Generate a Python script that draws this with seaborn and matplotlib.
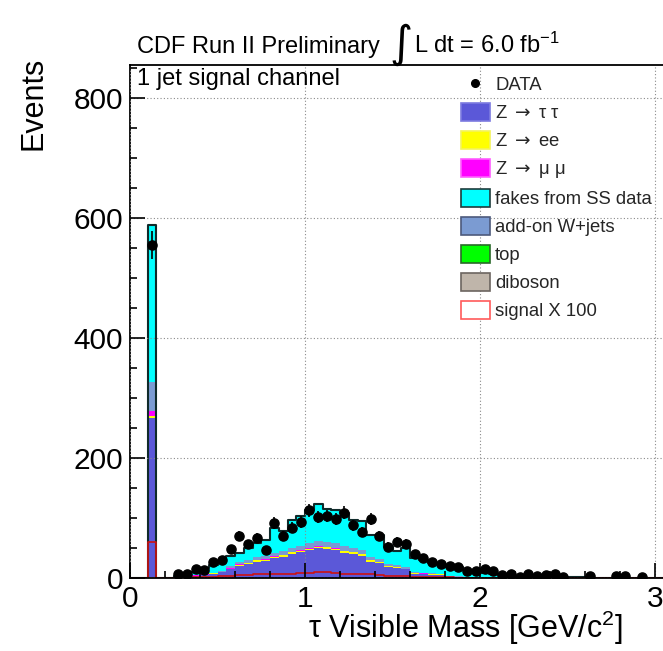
import numpy as np
import pandas as pd
import matplotlib
matplotlib.use("Agg")
import matplotlib.pyplot as plt
import seaborn as sns
from matplotlib.patches import Patch
from matplotlib.lines import Line2D
from matplotlib.ticker import MultipleLocator

sns.set_theme(style="ticks")
plt.rcParams["font.family"] = ["Liberation Sans", "DejaVu Sans"]
plt.rcParams["mathtext.fontset"] = "custom"
plt.rcParams["mathtext.rm"] = "Liberation Sans"
plt.rcParams["mathtext.it"] = "Liberation Sans:italic"
plt.rcParams["mathtext.bf"] = "Liberation Sans:bold"
plt.rcParams["mathtext.sf"] = "DejaVu Sans"
plt.rcParams["mathtext.default"] = "regular"

# 0.05 GeV/c^2 bins, lower edges 0.00 ... 3.00
bin_edges = np.round(np.arange(0.0, 3.0501, 0.05), 3)
bin_centers = bin_edges[:-1] + 0.025
edge_list = [float(e) for e in bin_edges]

# Background expectations per bin (events)
z_tautau = [0, 0, 265, 0, 0,
            1.5, 2, 3.5, 5, 7, 9, 14, 19, 23, 27,
            28, 33, 35, 40, 42, 46, 49, 48, 46, 42,
            40, 37, 27, 25, 18, 17, 14, 7, 6.5, 5.5,
            5, 3, 2, 1.5, 1.5, 0.8,
            0.5, 0.3, 0.2, 0.2, 0.1, 0.1, 0.1, 0, 0, 0,
            0, 0, 0, 0, 0, 0, 0, 0, 0, 0]
z_ee = [0, 0, 4, 0, 0,
        0.1, 0.2, 0.4, 0.6, 0.7, 0.8, 1.2, 1.5, 1.5, 1.7,
        1.8, 2, 2, 2.2, 2.3, 2.5, 2.5, 2.5, 2.4, 2.3,
        2.2, 2, 1.8, 1.6, 1.3, 1.2, 1.1, 1.0, 0.9, 1.0,
        0.9, 0.4, 0.3, 0.2, 0.2, 0.1,
        0, 0, 0, 0, 0, 0, 0, 0, 0, 0,
        0, 0, 0, 0, 0, 0, 0, 0, 0, 0]
z_mumu = [0, 0, 9, 0, 0,
          0.1, 0.2, 0.3, 0.4, 0.5, 0.6, 0.8, 2.5, 0.8, 0.8,
          0.9, 1, 1, 1, 1, 1, 1, 1, 1, 0.9,
          0.9, 0.8, 0.7, 0.6, 0.5, 0.5, 0.4, 0.3, 0.3, 0.3,
          0.2, 0.2, 0.1, 0.1, 0.1, 0.1,
          0, 0, 0, 0, 0, 0, 0, 0, 0, 0,
          0, 0, 0, 0, 0, 0, 0, 0, 0, 0]
fakes_ss = [0, 0, 261, 0, 0,
            1, 3, 5, 10, 13, 14, 17, 16, 20, 24,
            27, 41, 33, 46, 49, 54, 61, 55, 55, 55,
            47, 49, 38, 40, 29, 23, 32, 23, 21, 17,
            16, 15, 15, 11, 9, 8,
            6.5, 4.7, 4.8, 3.8, 2.9, 2.9, 1.9, 1.9, 2, 1,
            1.5, 1, 0.5, 0.5, 0.5, 0.5, 0.3, 0.3, 0.2, 0.2]
w_jets = [0, 0, 48, 0, 0,
          0.3, 0.6, 0.8, 1, 0.8, 1.6, 3, 3, 4.7, 4.5,
          5.3, 6, 6, 6.8, 7.7, 8.5, 8.5, 8.5, 8.6, 7.8,
          6.9, 6.2, 4.5, 3.8, 3.2, 2.3, 2.5, 1.7, 1.3, 1.2,
          0.9, 0.4, 0.6, 0.2, 0.2, 0,
          0, 0, 0, 0, 0, 0, 0, 0, 0, 0,
          0, 0, 0, 0, 0, 0, 0, 0, 0, 0]
top_quark = [0, 0, 0, 0, 0,
             0, 0, 0, 0, 0, 0.1, 0.1, 0.1, 0.2, 0.2,
             0.2, 0.2, 0.2, 0.2, 0.2, 0.2, 0.2, 0.2, 0.2, 0.2,
             0.2, 0.1, 0.1, 0.1, 0.1, 0.1, 0, 0, 0, 0,
             0, 0, 0, 0, 0, 0,
             0, 0, 0, 0, 0, 0, 0, 0, 0, 0,
             0, 0, 0, 0, 0, 0, 0, 0, 0, 0]
diboson = [0, 0, 1, 0, 0,
           0, 0, 0.1, 0.1, 0.1, 0.2, 0.2, 0.3, 0.3, 0.3,
           0.3, 0.3, 0.4, 0.4, 0.4, 0.4, 0.4, 0.4, 0.3, 0.3,
           0.3, 0.3, 0.3, 0.2, 0.2, 0.2, 0.2, 0.1, 0.1, 0.1,
           0.1, 0, 0, 0, 0, 0,
           0, 0, 0, 0, 0, 0, 0, 0, 0, 0,
           0, 0, 0, 0, 0, 0, 0, 0, 0, 0]
# Signal expectation scaled by 100
signal_x100 = [0, 0, 60, 0, 0,
               0.5, 1, 1.5, 2, 2.5, 3, 4, 5, 5, 6,
               6, 6.5, 7, 7, 8, 9, 10, 9.5, 8, 7,
               7, 6, 6, 5, 4, 4, 3, 2.5, 2, 1.5,
               1, 1, 0.5, 0.5, 0.3, 0.2,
               0, 0, 0, 0, 0, 0, 0, 0, 0, 0,
               0, 0, 0, 0, 0, 0, 0, 0, 0, 0]
# Observed events per bin
data_counts = [0, 0, 555, 0, 0,
               6, 6, 15, 13, 27, 30, 48, 70, 56, 67,
               47, 92, 70, 84, 93, 113, 102, 103, 98, 109,
               88, 77, 98, 70, 52, 60, 57, 40, 34, 27,
               23, 20, 19, 12, 12, 15,
               12, 5, 7, 2, 7, 3, 5, 6, 2, 0,
               0, 4, 0, 0, 3, 3, 0, 2, 0, 0]

arrow = r"$\mathsf{\rightarrow}$"
lbl_ztt = "Z " + arrow + " \u03c4 \u03c4"
lbl_zee = "Z " + arrow + " ee"
lbl_zmm = "Z " + arrow + " \u03bc \u03bc"
lbl_fake = "fakes from SS data"
lbl_wj = "add-on W+jets"
lbl_top = "top"
lbl_vv = "diboson"
lbl_sig = "signal X 100"

# first level is drawn on top of the stack
stack_order = [lbl_fake, lbl_wj, lbl_zmm, lbl_zee, lbl_ztt, lbl_top, lbl_vv]
components = {lbl_fake: fakes_ss, lbl_wj: w_jets, lbl_zmm: z_mumu,
              lbl_zee: z_ee, lbl_ztt: z_tautau, lbl_top: top_quark,
              lbl_vv: diboson}
fill_colors = {lbl_ztt: "#5b58d8", lbl_zee: "#ffff00", lbl_zmm: "#ff00ff",
               lbl_fake: "#00ffff", lbl_wj: "#7b9bd2", lbl_top: "#00ff00",
               lbl_vv: "#bfb5aa"}
edge_colors = {lbl_ztt: "#7c7ae0", lbl_zee: "#f4f45a", lbl_zmm: "#ff5cff",
               lbl_fake: "#1e3c3c", lbl_wj: "#4d5a7c", lbl_top: "#2a6a2a",
               lbl_vv: "#6c6560"}

mc = pd.DataFrame({
    "mass": np.tile(bin_centers, len(stack_order)),
    "events": np.concatenate([components[p] for p in stack_order]),
    "process": np.repeat(stack_order, len(bin_centers)),
})
total_mc = np.sum([components[p] for p in stack_order], axis=0)

fig = plt.figure(figsize=(6.63, 6.51), dpi=100)
W, H = 663.0, 651.0
ax = fig.add_axes([130 / W, 1 - 578 / H, (664 - 130) / W, (578 - 65) / H])

sns.histplot(data=mc, x="mass", weights="events", hue="process",
             hue_order=stack_order, palette=fill_colors, bins=edge_list,
             multiple="stack", element="step", fill=True, alpha=1,
             linewidth=0, legend=False, ax=ax)
sns.histplot(x=bin_centers, weights=total_mc, bins=edge_list, element="step",
             fill=False, color="#0f2a2a", linewidth=1.5, ax=ax)
sns.histplot(x=bin_centers, weights=signal_x100, bins=edge_list,
             element="step", fill=False, color="#cc1111", linewidth=1.2, ax=ax)

obs = np.array(data_counts, dtype=float)
has = obs > 0
ax.errorbar(bin_centers[has], obs[has], yerr=np.sqrt(obs[has]), fmt="o",
            color="black", ms=6.6, elinewidth=1.2, capsize=0, zorder=6)

ax.set_xlim(0, 3.05)
ax.set_ylim(0, 855)
ax.set_xlabel("")
ax.set_ylabel("")
ax.xaxis.set_major_locator(MultipleLocator(1))
ax.xaxis.set_minor_locator(MultipleLocator(0.2))
ax.yaxis.set_major_locator(MultipleLocator(200))
ax.yaxis.set_minor_locator(MultipleLocator(50))
ax.tick_params(which="both", direction="in", top=False, right=False,
               color="black", width=1.2, labelsize=21.5, labelcolor="black")
ax.tick_params(which="major", length=10.8, pad=5)
ax.tick_params(which="minor", length=5)
for s in ax.spines.values():
    s.set_color("black")
    s.set_linewidth(1.3)
ax.grid(True, which="major", linestyle=(0, (1, 2)), color="#8a8a8a", lw=0.8)
ax.set_axisbelow(False)
for gl in ax.get_xgridlines() + ax.get_ygridlines():
    gl.set_zorder(0.5)

# Legend
handles = [Line2D([], [], marker="o", ls="none", color="black", ms=5.5)]
labels = ["DATA"]
for p in [lbl_ztt, lbl_zee, lbl_zmm, lbl_fake, lbl_wj, lbl_top, lbl_vv]:
    handles.append(Patch(facecolor=fill_colors[p], edgecolor=edge_colors[p], lw=1.2))
    labels.append(p)
handles.append(Patch(facecolor="white", edgecolor="#ff5a5a", lw=1.2))
labels.append(lbl_sig)
ax.legend(handles, labels, loc="upper left",
          bbox_to_anchor=(461 / W, 1 - 75 / H), bbox_transform=fig.transFigure,
          frameon=False, fontsize=13.3, handlelength=1.55, handleheight=1.1,
          handletextpad=0.3, labelspacing=0.48, borderpad=0, borderaxespad=0)

# Labels and header
ax.text(137 / W, 1 - 85 / H, "1 jet signal channel", transform=fig.transFigure,
        fontsize=17, va="baseline", ha="left", color="black")
fig.text(137 / W, 1 - 53 / H, "CDF Run II Preliminary", fontsize=17,
         va="baseline", ha="left", color="black")
fig.text(389 / W, 1 - 57 / H, "\u222b", fontsize=32, family="DejaVu Sans",
         va="baseline", ha="left", color="black")
fig.text(414 / W, 1 - 53 / H, r"L dt = 6.0 fb$^{-1}$", fontsize=17,
         va="baseline", ha="left", color="black")
fig.text(34 / W, 1 - 57 / H, "Events", rotation=90, fontsize=22,
         ha="center", va="top", color="black")
fig.text(623 / W, 1 - 638 / H, "\u03c4 Visible Mass [GeV/c$^{2}$]", fontsize=22,
         ha="right", va="baseline", color="black")

fig.savefig("out.png", dpi=100)
